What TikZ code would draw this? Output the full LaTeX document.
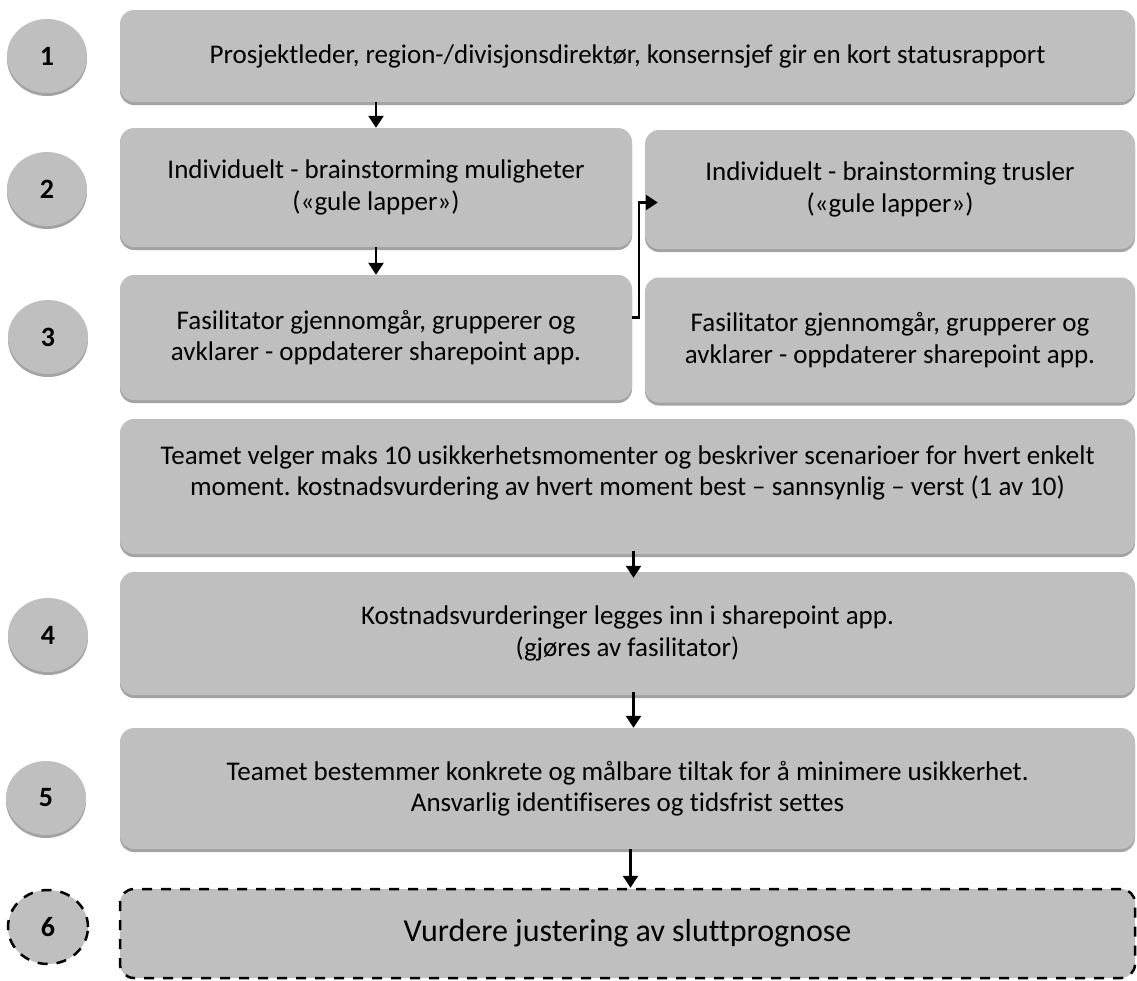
\documentclass[tikz,border=0pt]{standalone}
\usepackage{fontspec}
\setmainfont{Carlito}[Ligatures=NoCommon]
\usepackage{xcolor}
\definecolor{base01}{HTML}{bfbfbf}
\definecolor{base02}{HTML}{a3a3a3}
\usetikzlibrary{arrows.meta, positioning, shapes, shadows}
\frenchspacing
\tikzset{
    panel/.style={
        rectangle, rounded corners=14pt,
        fill=base01, inner sep=0pt,
        align=center,
        font=\fontsize{27}{31.5}\selectfont
    },
    shade/.style={
        drop shadow={shadow xshift=0pt, shadow yshift=-3pt,
            fill=base02, opacity=1}
    },
    box/.style={panel, shade},
    num/.style={
        ellipse, fill=base01, inner sep=0pt,
        minimum width=80pt, minimum height=74pt,
        font=\fontsize{28}{32}\selectfont\bfseries
    },
    opt/.style={draw, line width=2.5pt, dash pattern=on 10pt off 9pt},
    conn/.style={
        line width=2.5pt,
        -{Triangle[length=12pt, width=15pt]},
    },
}

\begin{document}
\begin{tikzpicture}[x=1pt, y=-1pt]
        \useasboundingbox (0,0) rectangle (1137,980);

        % steps
        \node[box, minimum width=1015pt, minimum height=92pt] (b1) at (627.5,56)
            {Prosjektleder, region-/divisjonsdirektør, konsernsjef gir en kort statusrapport};
        \node[box, minimum width=512pt, minimum height=119pt] (b2l) at (376,187.5)
            {Individuelt - brainstorming muligheter\\(«gule lapper»)};
        \node[box, minimum width=490pt, minimum height=119pt] (b2r) at (890,189.5)
            {Individuelt - brainstorming trusler\\(«gule lapper»)};
        \node[box, minimum width=512pt, minimum height=125pt] (b3l) at (376,337.5)
            {Fasilitator gjennomgår, grupperer og\\avklarer - oppdaterer sharepoint app.};
        \node[box, minimum width=490pt, minimum height=125pt] (b3r) at (890,340)
            {Fasilitator gjennomgår, grupperer og\\avklarer - oppdaterer sharepoint app.};
        \node[box, minimum width=1015pt, minimum height=135pt] (bt) at (627.5,486.5)
            {Teamet velger maks 10 usikkerhetsmomenter og beskriver scenarioer for hvert enkelt\\
             moment. kostnadsvurdering av hvert moment best – sannsynlig – verst (1 av 10)\\ \mbox{}};
        \node[box, minimum width=1015pt, minimum height=123pt] (b4) at (627.5,633.5)
            {Kostnadsvurderinger legges inn i sharepoint app.\\(gjøres av fasilitator)};
        \node[box, minimum width=1015pt, minimum height=121pt] (b5) at (627.5,788.5)
            {Teamet bestemmer konkrete og målbare tiltak for å minimere usikkerhet.\\Ansvarlig identifiseres og tidsfrist settes};
        \node[panel, opt, minimum width=1015pt, minimum height=89pt,
            font=\fontsize{32}{38}\selectfont] (b6) at (627.5,933.5)
            {Vurdere justering av sluttprognose};

        % numbers
        \node[num, shade] (n1) at (47,56) {1};
        \node[num, shade] (n2) at (47,189) {2};
        \node[num, shade] (n3) at (48,337) {3};
        \node[num, shade] (n4) at (48,635) {4};
        \node[num, shade] (n5) at (46,798) {5};
        \node[num, opt] (n6) at (48,927) {6};

        % arrows
        \draw[conn] (b1.south -| b2l.north) -- (b2l.north);
        \draw[conn] (b2l.south) -- (b3l.north);
        \draw[conn] ([yshift=20pt]b3l.east) -- ++(7,0)
            |- ([xshift=13pt, yshift=-13pt]b2r.west);
        \draw[conn, shorten <=-3pt, shorten >=-6pt] ([xshift=6pt]bt.south) -- ([xshift=6pt]b4.north);
        \draw[conn, shorten <=-3pt] ([xshift=6pt]b4.south) -- ([xshift=6pt]b5.north);
        \draw[conn] ([xshift=3pt]b5.south) -- ([xshift=3pt]b6.north);
\end{tikzpicture}
\end{document}
